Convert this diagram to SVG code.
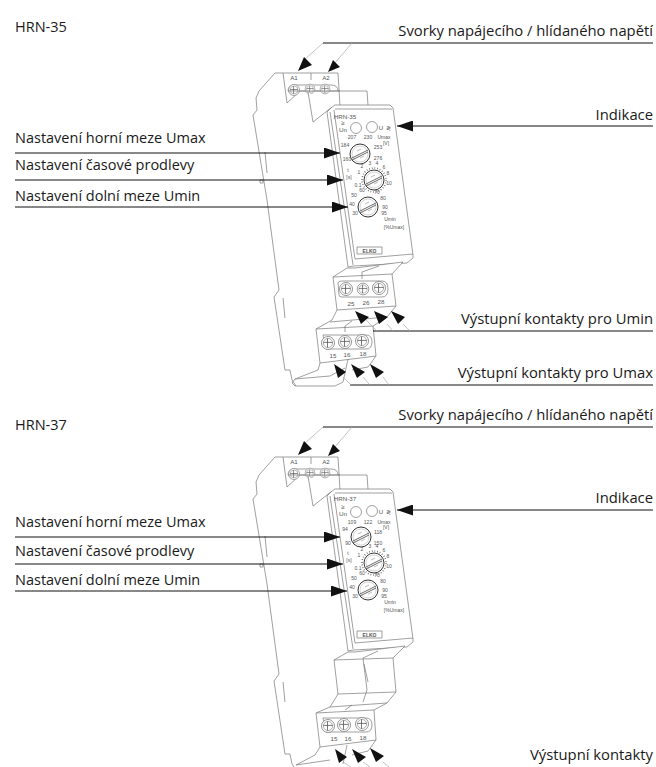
<svg xmlns="http://www.w3.org/2000/svg" width="656" height="767" viewBox="0 0 656 767">
<style>
text{font-family:"Liberation Sans",sans-serif;fill:#555}
.l,.r{font-family:"Open Sans","Noto Sans",sans-serif;font-size:14.8px;fill:#1a1a1a}
.l{font-size:14.5px}
.r{text-anchor:end}
.s{font-size:5px;text-anchor:middle}
.m{font-size:6.200px;text-anchor:middle}
.d{fill:none;stroke:#777;stroke-width:.7;stroke-linejoin:round}
.w{fill:#fff;stroke:#777;stroke-width:.7;stroke-linejoin:round}
.k{fill:none;stroke:#111;stroke-width:1}
.g{fill:none;stroke:#aaa;stroke-width:.7}
.t{fill:none;stroke:#555;stroke-width:1.6;stroke-dasharray:.7 2}
</style>
<defs>
<marker id="a" viewBox="0 0 16 11" refX="16" refY="5.5" markerWidth="16" markerHeight="11" markerUnits="userSpaceOnUse" orient="auto"><path d="M0 0L16 5.5L0 11Z" fill="#111"/></marker>
<g id="screw"><circle r="6.5" fill="#fff" stroke="#888" stroke-width=".9"/><circle r="4.6" fill="none" stroke="#999" stroke-width=".8"/><path d="M-4.5-.6H4.5M-.5-4.500V4.500" stroke="#555" stroke-width=".8"/></g>
<g id="dial"><circle r="10" fill="#fff" stroke="#333" stroke-width="1"/><circle r="8" fill="none" stroke="#aaa" stroke-width=".5"/><path d="M-8 4L8-4M-8 6L8-2" fill="none" stroke="#444" stroke-width=".8"/><path d="M-3-3L1-5M0 4L4 2" stroke="#aaa" stroke-width=".8"/></g>
<g id="top">
<path d="M283 73L287 103L298 93L300 91H367L368 105H338L338 73H275L259 91L256 98L257 110L253 115L267 200L279 290L274 297L285 370H290L293 381L296 386H320V370L300 300V200L283 100Z" style="fill:#fff;stroke:none"/>
<path class="d" d="M338 73H275L259 91L256 98L257 110L253 115L267 200L279 290L274 297L285 370H290L292 380L296 386"/>
<path class="d" d="M283 73L287 103L298 93L300 91H367L368 105M338 73L340 106M311 73V80M265 152L267 173M283 298L285 318M260 180H263V183H260Z"/>
<path class="d" d="M288 91Q288 85 295 85H331Q338 85 338 91"/>
<use href="#screw" transform="translate(294 90) scale(.85)"/>
<use href="#screw" transform="translate(310 89) scale(.75)"/>
<use href="#screw" transform="translate(325 89) scale(.75)"/>
<path class="d" d="M288 91L340 91"/>
<path class="w" d="M308 92L313 122L332 107L335 105H390L393 108L413 255V258L407 263L354 266L348 267L327 112L332 107"/>
<path class="d" d="M330 112L353 265M334 110L355 259L413 254M335 109H392"/>
<text x="294" y="80" class="m">A1</text><text x="326" y="80" class="m">A2</text>
<circle cx="356" cy="128" r="5.5" class="w"/><circle cx="372" cy="127" r="5.5" class="w"/>
<text x="343" y="125" class="m">≥</text><text x="343" y="132" class="m">Un</text><text x="381" y="130" class="m">U</text><text x="388" y="130" class="m">≷</text>
<rect x="357" y="247" width="25" height="7" class="d"/><text x="369.500" y="252.500" class="s" style="font-weight:bold">ELKO</text>
</g>
<g id="face">
<use href="#dial" transform="translate(374 180)"/>
<circle cx="374" cy="180" r="12" class="t"/>
<use href="#dial" transform="translate(368 207)"/>
<text x="348" y="172" class="s">t</text><text x="349" y="179" class="s">[s]</text>
<text x="358" y="187" class="s">0.1</text><text x="359" y="174" class="s">1</text><text x="362" y="168" class="s">2</text><text x="370" y="165" class="s">3</text><text x="377" y="165" class="s">4</text><text x="384" y="169" class="s">6</text><text x="388" y="175" class="s">8</text><text x="389" y="185" class="s">10</text>
<text x="354" y="197" class="s">50</text><text x="362" y="192" class="s">60</text><text x="352" y="206" class="s">40</text><text x="355" y="215" class="s">30</text><text x="377" y="194" class="s">70</text><text x="383" y="200" class="s">80</text><text x="385" y="209" class="s">90</text><text x="384" y="215" class="s">95</text>
<text x="390" y="221" class="s">Umin</text><text x="394" y="229" class="s">[%Umax]</text>
</g>
</defs>

<g id="heading-1"><text x="15" y="32" class="l">HRN-35</text></g>
<g id="heading-2"><text x="15" y="430" class="l">HRN-37</text></g>

<g id="device-1">
<use href="#top"/>
<use href="#face"/>
<text x="345" y="119" class="m">HRN-35</text>
<text x="384" y="139" class="s">Umax</text><text x="386" y="145" class="s">[V]</text>
<use href="#dial" transform="translate(360 154)"/>
<text x="352" y="139" class="s">207</text><text x="368" y="139" class="s">230</text><text x="378" y="149" class="s">253</text><text x="378" y="160" class="s">276</text><text x="345" y="147" class="s">184</text><text x="347" y="161" class="s">160</text>
<path class="w" d="M333 277L347 268H355L403 262L392 274L396 306L337 310Z"/>
<path class="d" d="M362 272L379 266M362 272V279M333 277L392 274"/>
<path class="d" d="M338 283Q338 281 342 281H382Q388 281 388 289Q388 297 382 297H342Q339 297 339 295Z"/>
<use href="#screw" transform="translate(346 289)"/><use href="#screw" transform="translate(363 289) scale(.9)"/><use href="#screw" transform="translate(379 288)"/>
<text x="351" y="306" class="m">25</text><text x="366" y="305" class="m">26</text><text x="381" y="304" class="m">28</text>
<path class="d" d="M337 310L332 320L316 329M396 306L387 317L373 326M330 322L387 317M345 326L352 321"/>
<path class="w" d="M316 329L373 326L376 356L320 363Z"/>
<path class="d" d="M345 326V332M323 335H366Q372 335 372 342Q372 349 366 349H326Z"/>
<use href="#screw" transform="translate(328 343)"/><use href="#screw" transform="translate(345 342)"/><use href="#screw" transform="translate(362 341)"/>
<text x="333" y="358" class="m">15</text><text x="347" y="357" class="m">16</text><text x="363" y="356" class="m">18</text>
<path class="d" d="M320 363L318 370L295 379L292 383L295 386H335L343 382L348 359M295 379L330 376L345 368M376 356L368 367L352 370"/>
</g>

<g id="device-2">
<use href="#top" y="384"/>
<use href="#face" y="383"/>
<text x="345" y="501" class="m">HRN-37</text>
<text x="384" y="524" class="s">Umax</text><text x="386" y="529" class="s">[V]</text>
<use href="#dial" transform="translate(361 537)"/>
<text x="352" y="524" class="s">109</text><text x="368" y="524" class="s">122</text><text x="378" y="534" class="s">118</text><text x="378" y="545" class="s">150</text><text x="345" y="531" class="s">94</text><text x="348" y="545" class="s">90</text>
<path class="w" d="M334 660L348 652H355L405 646L393 658L396 692L338 694Z"/>
<path class="d" d="M363 658L378 651M334 660L393 658M363 658L367 690L363 702M364 664L368 682"/>
<path class="d" d="M338 694L330 707L316 713M396 692L387 703L374 710M330 707L387 703M345 710L352 705"/>
<path class="w" d="M316 713L374 710L376 740L320 747Z"/>
<path class="d" d="M323 718H366Q372 718 372 725Q372 732 366 732H326Z"/>
<use href="#screw" transform="translate(328 726)"/><use href="#screw" transform="translate(344 725)"/><use href="#screw" transform="translate(362 724)"/>
<text x="334" y="741" class="m">15</text><text x="348" y="741" class="m">16</text><text x="363" y="740" class="m">18</text>
<path class="d" d="M320 747L315 755L296 765M347 745L343 764M376 740L368 751L352 755M296 765L330 760"/>
</g>

<g id="connectors">
<path class="k" d="M323 43H653"/>
<path class="g" d="M323 43L304 60M352 43L334 64"/>
<path fill="#111" d="M298 71L304 57L312 65ZM328 72L333 60L340 67Z"/>
<path class="k" marker-end="url(#a)" d="M653 126H397"/>
<path class="k" marker-end="url(#a)" d="M15 153H340"/>
<path class="k" marker-end="url(#a)" d="M15 180H343"/>
<path class="k" marker-end="url(#a)" d="M15 207H348"/>
<path class="k" d="M373 331H653M350 385H653"/>
<path class="g" d="M366 320L377 331M387 324L393 331M403 324L410 331M343 377L351 385M363 377L370 385M383 377L389 385"/>
<path fill="#111" d="M355 311L369 317L361 324ZM374 311L388 317L379 324ZM391 311L405 317L398 324ZM334 364L346 372L338 378ZM351 364L365 372L357 378ZM370 364L384 372L376 378Z"/>
<path class="k" d="M323 427H653"/>
<path class="g" d="M323 427L304 444M352 427L334 448"/>
<path fill="#111" d="M298 455L304 441L312 449ZM328 456L333 444L340 451Z"/>
<path class="k" marker-end="url(#a)" d="M653 510H397"/>
<path class="k" marker-end="url(#a)" d="M15 537H340"/>
<path class="k" marker-end="url(#a)" d="M15 564H343"/>
<path class="k" marker-end="url(#a)" d="M15 591H347"/>
<path class="g" d="M343 762L351 767M363 762L370 767M383 762L389 767"/>
<path fill="#111" d="M335 749L347 757L339 763ZM352 749L366 757L358 763ZM370 748L384 756L376 762Z"/>
</g>

<g id="labels">
<text x="653" y="36" class="r">Svorky napájecího / hlídaného napětí</text>
<text x="653" y="120" class="r">Indikace</text>
<text x="15" y="143" class="l">Nastavení horní meze Umax</text>
<text x="15" y="170" class="l">Nastavení časové prodlevy</text>
<text x="15" y="201" class="l">Nastavení dolní meze Umin</text>
<text x="653" y="324" class="r">Výstupní kontakty pro Umin</text>
<text x="653" y="378" class="r">Výstupní kontakty pro Umax</text>
<text x="653" y="420" class="r">Svorky napájecího / hlídaného napětí</text>
<text x="653" y="503" class="r">Indikace</text>
<text x="15" y="527" class="l">Nastavení horní meze Umax</text>
<text x="15" y="556" class="l">Nastavení časové prodlevy</text>
<text x="15" y="585" class="l">Nastavení dolní meze Umin</text>
<text x="653" y="760" class="r">Výstupní kontakty</text>
</g>
</svg>
